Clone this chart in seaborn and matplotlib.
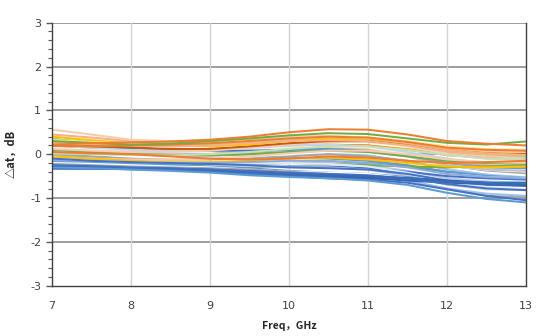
import numpy as np
import pandas as pd
import matplotlib
matplotlib.use("Agg")
import matplotlib.pyplot as plt
import seaborn as sns

freq = [7, 7.5, 8, 8.5, 9, 9.5, 10, 10.5, 11, 11.5, 12, 12.5, 13]

s01 = [0.22, 0.25, 0.27, 0.29, 0.33, 0.40, 0.50, 0.57, 0.56, 0.45, 0.30, 0.24, 0.20]
s02 = [0.30, 0.26, 0.22, 0.24, 0.30, 0.36, 0.43, 0.48, 0.46, 0.36, 0.26, 0.22, 0.29]
s03 = [0.56, 0.45, 0.33, 0.30, 0.32, 0.36, 0.40, 0.42, 0.38, 0.28, 0.15, 0.08, 0.05]
s04 = [0.40, 0.32, 0.25, 0.20, 0.18, 0.22, 0.30, 0.36, 0.36, 0.28, 0.15, 0.08, 0.06]
s05 = [0.45, 0.38, 0.30, 0.28, 0.30, 0.33, 0.38, 0.40, 0.36, 0.25, 0.10, 0.02, -0.02]
s06 = [0.20, 0.18, 0.15, 0.12, 0.12, 0.18, 0.25, 0.30, 0.30, 0.22, 0.10, 0.02, 0.00]
s07 = [0.35, 0.28, 0.22, 0.20, 0.22, 0.28, 0.33, 0.36, 0.33, 0.22, 0.08, 0.00, -0.05]
s08 = [0.25, 0.22, 0.20, 0.18, 0.20, 0.26, 0.32, 0.35, 0.33, 0.24, 0.12, 0.05, 0.02]
s09 = [0.05, 0.02, 0.00, -0.05, -0.10, -0.12, -0.10, -0.05, -0.08, -0.15, -0.20, -0.18, -0.15]
s10 = [0.12, 0.08, 0.05, 0.05, 0.08, 0.15, 0.22, 0.28, 0.28, 0.20, 0.05, -0.05, -0.08]
s11 = [-0.05, -0.10, -0.15, -0.18, -0.18, -0.15, -0.10, -0.08, -0.12, -0.20, -0.28, -0.30, -0.28]
s12 = [-0.20, -0.22, -0.25, -0.25, -0.22, -0.20, -0.20, -0.22, -0.25, -0.28, -0.30, -0.28, -0.25]
s13 = [0.00, -0.05, -0.10, -0.12, -0.12, -0.10, -0.05, 0.00, -0.05, -0.15, -0.30, -0.40, -0.45]
s14 = [0.30, 0.25, 0.20, 0.20, 0.22, 0.28, 0.33, 0.35, 0.30, 0.18, 0.00, -0.10, -0.12]
s15 = [0.20, 0.15, 0.10, 0.08, 0.10, 0.15, 0.20, 0.22, 0.18, 0.05, -0.10, -0.20, -0.22]
s16 = [0.10, 0.05, 0.00, -0.02, 0.00, 0.05, 0.10, 0.12, 0.08, -0.05, -0.20, -0.30, -0.32]
s17 = [0.35, 0.25, 0.15, 0.10, 0.08, 0.08, 0.10, 0.10, 0.05, -0.10, -0.30, -0.42, -0.45]
s18 = [0.00, -0.05, -0.10, -0.12, -0.10, -0.05, 0.00, 0.02, -0.02, -0.15, -0.35, -0.45, -0.50]
s19 = [0.15, 0.10, 0.05, 0.02, 0.05, 0.10, 0.15, 0.18, 0.15, 0.00, -0.20, -0.30, -0.35]
s20 = [-0.10, -0.15, -0.18, -0.20, -0.22, -0.25, -0.30, -0.32, -0.35, -0.45, -0.60, -0.70, -0.72]
s21 = [-0.28, -0.30, -0.32, -0.33, -0.35, -0.40, -0.45, -0.50, -0.52, -0.55, -0.60, -0.65, -0.70]
s22 = [-0.30, -0.31, -0.33, -0.35, -0.38, -0.42, -0.48, -0.52, -0.55, -0.60, -0.65, -0.68, -0.70]
s23 = [-0.32, -0.33, -0.34, -0.36, -0.40, -0.45, -0.50, -0.55, -0.58, -0.65, -0.80, -0.95, -1.05]
s24 = [-0.30, -0.32, -0.35, -0.38, -0.42, -0.48, -0.52, -0.55, -0.60, -0.70, -0.88, -1.02, -1.10]
s25 = [-0.25, -0.28, -0.30, -0.32, -0.35, -0.40, -0.45, -0.48, -0.50, -0.60, -0.78, -0.90, -0.95]
s26 = [-0.20, -0.22, -0.25, -0.28, -0.30, -0.35, -0.40, -0.42, -0.45, -0.55, -0.75, -0.90, -0.95]
s27 = [-0.22, -0.25, -0.28, -0.30, -0.32, -0.35, -0.40, -0.45, -0.50, -0.60, -0.80, -0.95, -0.98]
s28 = [-0.15, -0.18, -0.20, -0.22, -0.25, -0.28, -0.30, -0.30, -0.35, -0.50, -0.70, -0.80, -0.82]
s29 = [-0.20, -0.25, -0.30, -0.32, -0.32, -0.30, -0.28, -0.28, -0.32, -0.40, -0.50, -0.55, -0.58]
s30 = [-0.05, -0.10, -0.15, -0.20, -0.22, -0.22, -0.20, -0.18, -0.25, -0.38, -0.55, -0.62, -0.65]
s31 = [0.25, 0.20, 0.12, 0.05, 0.00, -0.05, -0.08, -0.10, -0.15, -0.25, -0.40, -0.48, -0.50]
s32 = [0.10, 0.08, 0.05, 0.02, 0.02, 0.05, 0.10, 0.15, 0.12, 0.00, -0.15, -0.25, -0.28]
s33 = [-0.33, -0.33, -0.34, -0.35, -0.38, -0.42, -0.46, -0.48, -0.50, -0.55, -0.62, -0.68, -0.72]
s34 = [0.18, 0.15, 0.12, 0.10, 0.12, 0.15, 0.20, 0.22, 0.20, 0.10, -0.02, -0.08, -0.10]
s35 = [-0.25, -0.28, -0.30, -0.28, -0.25, -0.22, -0.20, -0.18, -0.20, -0.28, -0.40, -0.45, -0.45]
s36 = [0.05, 0.02, 0.00, 0.00, 0.02, 0.08, 0.15, 0.20, 0.20, 0.12, 0.00, -0.05, -0.05]
s37 = [-0.10, -0.10, -0.12, -0.12, -0.10, -0.05, 0.02, 0.08, 0.08, 0.00, -0.12, -0.18, -0.20]
s38 = [0.02, 0.00, -0.02, -0.03, 0.00, 0.05, 0.12, 0.18, 0.18, 0.10, -0.02, -0.10, -0.12]
s39 = [-0.15, -0.18, -0.20, -0.22, -0.20, -0.18, -0.15, -0.15, -0.20, -0.30, -0.45, -0.52, -0.55]
s40 = [-0.18, -0.20, -0.22, -0.25, -0.28, -0.32, -0.38, -0.42, -0.45, -0.52, -0.62, -0.66, -0.68]
s41 = [0.05, 0.00, -0.05, -0.08, -0.08, -0.05, 0.00, 0.05, 0.02, -0.10, -0.30, -0.42, -0.48]
s42 = [0.10, 0.05, 0.02, 0.00, 0.00, 0.02, 0.05, 0.08, 0.05, -0.08, -0.25, -0.35, -0.38]
s43 = [0.20, 0.18, 0.20, 0.22, 0.25, 0.30, 0.36, 0.40, 0.38, 0.28, 0.15, 0.10, 0.08]
s44 = [0.28, 0.24, 0.20, 0.18, 0.20, 0.25, 0.30, 0.32, 0.30, 0.20, 0.06, 0.00, -0.02]
s45 = [0.32, 0.28, 0.24, 0.24, 0.26, 0.30, 0.36, 0.40, 0.38, 0.30, 0.18, 0.12, 0.10]
s46 = [0.10, 0.05, 0.00, -0.02, -0.02, 0.00, 0.05, 0.08, 0.05, -0.05, -0.15, -0.20, -0.22]
s47 = [-0.25, -0.27, -0.30, -0.32, -0.35, -0.38, -0.42, -0.45, -0.48, -0.55, -0.68, -0.78, -0.82]
s48 = [-0.30, -0.32, -0.33, -0.35, -0.37, -0.40, -0.45, -0.48, -0.50, -0.55, -0.62, -0.65, -0.65]
s49 = [-0.12, -0.15, -0.18, -0.20, -0.20, -0.20, -0.20, -0.22, -0.28, -0.42, -0.62, -0.75, -0.80]
s50 = [0.05, 0.02, -0.02, -0.05, -0.05, -0.02, 0.03, 0.06, 0.04, -0.05, -0.20, -0.28, -0.30]

series = [s36, s35, s34, s32, s31, s30, s29, s28, s19, s18, s17, s16, s15, s14, s13,
          s50, s42, s41, s46, s38, s37,
          s12, s11, s10, s09, s08, s07, s06, s05, s04, s03,
          s44, s45, s43, s02, s01,
          s49, s39, s20, s40, s26, s27, s25, s21, s22, s48, s47, s33, s23, s24]
colors = ["#FFC000", "#548235", "#ED7D31", "#F4B183", "#5B9BD5", "#B4C7E7", "#4472C4", "#D0CECE",
          "#F2F2F2", "#9DC3E6", "#4472C4", "#5B9BD5", "#BDD7EE", "#D9D9D9", "#A5A5A5",
          "#A5A5A5", "#BFBFBF", "#FFFFFF", "#70AD47", "#C5E0B4", "#F8CBAD",
          "#70AD47", "#FFC000", "#F8CBAD", "#ED7D31", "#FFD966", "#A9D18E", "#C55A11", "#F4B183",
          "#FFC000", "#F8CBAD",
          "#F4B183", "#FFE699", "#ED7D31", "#70AD47", "#ED7D31",
          "#DEEBF7", "#8FAADC", "#4472C4", "#5B9BD5", "#FFFFFF", "#A5A5A5", "#9DC3E6",
          "#2F5597", "#3A62AD", "#2E75B6", "#4472C4", "#3B6BB8", "#4472C4", "#5B9BD5"]

rows = []
for i, vals in enumerate(series):
    for f, v in zip(freq, vals):
        rows.append({"series": f"s{i}", "freq": f, "val": v})
df = pd.DataFrame(rows)
palette = {f"s{i}": c for i, c in enumerate(colors)}

sns.set_theme(style="white")
plt.rcParams["axes.unicode_minus"] = False
plt.rcParams["font.family"] = ["DejaVu Sans"]

fig = plt.figure(figsize=(5.42, 3.36), dpi=100)
ax = fig.add_axes([0.0954, 0.1497, 0.8751, 0.7827])

sns.lineplot(data=df, x="freq", y="val", hue="series", palette=palette,
             linewidth=1.45, legend=False, ax=ax, sort=False)

ax.set_xlim(7, 13)
ax.set_ylim(-3, 3)
ax.set_xticks([7, 8, 9, 10, 11, 12, 13])
ax.set_yticks([-3, -2, -1, 0, 1, 2, 3])
ax.set_yticks(np.arange(-3, 3.01, 0.2), minor=True)
ax.tick_params(axis="x", length=0, labelsize=8, colors="#404040", pad=11)
ax.tick_params(axis="y", which="major", length=4, width=1, color="#595959",
               labelsize=8, labelcolor="#404040", left=True, direction="out")
ax.tick_params(axis="y", which="minor", length=3, width=0.8, color="#595959",
               left=True, direction="out")

for y in [-2, -1, 0, 1, 2, 3]:
    ax.axhline(y, color="#8C8C8C", lw=1.2, zorder=0)
for x in [8, 9, 10, 11, 12]:
    ax.axvline(x, color="#D4D4D4", lw=1.0, zorder=0)

for side in ["left", "bottom", "right"]:
    ax.spines[side].set_visible(True)
    ax.spines[side].set_color("#404040")
    ax.spines[side].set_linewidth(1.0)
ax.spines["top"].set_visible(False)

ax.set_xlabel("Freq，GHz", fontsize=7.5, fontweight="bold",
              family=["Noto Sans CJK SC", "DejaVu Sans"], labelpad=7)
ax.set_ylabel("△at，dB", fontsize=8, fontweight="bold",
              family=["Noto Sans CJK SC", "DejaVu Sans"], labelpad=9)

fig.savefig("out.png", dpi=100, facecolor="white")
